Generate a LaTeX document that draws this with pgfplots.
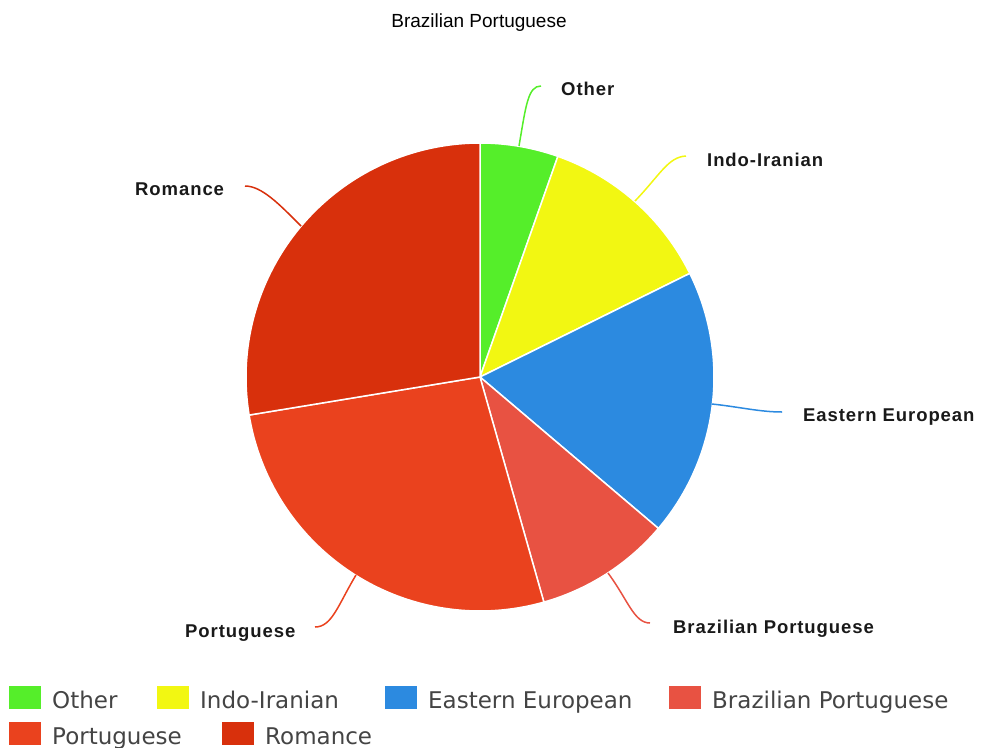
\documentclass[border=0pt]{standalone}
\usepackage{pgfplots}
\usepackage{pgfplotstable}
\pgfplotsset{compat=1.18}
\usepackage{fontspec}
\setmainfont{Liberation Sans}
\newfontfamily\lblfont[LetterSpace=5]{Liberation Sans}
\newfontfamily\legfont{DejaVu Sans}

\definecolor{cOther}{RGB}{85,238,42}
\definecolor{cIndo}{RGB}{242,247,18}
\definecolor{cEast}{RGB}{44,138,224}
\definecolor{cBraz}{RGB}{232,82,66}
\definecolor{cPort}{RGB}{234,66,30}
\definecolor{cRom}{RGB}{216,48,12}
\definecolor{legtext}{RGB}{68,68,68}

\pgfplotstableread{
name value
Other 5.4
IndoIranian 12.3
EasternEuropean 18.5
BrazilianPortuguese 9.4
Portuguese 26.8
Romance 27.6
}\piedata

\newcommand\slice[2]{%
  \fill[#2, draw=white, line width=1.5bp, line join=round]
    (axis cs:480,377) -- ++({90-3.6*\csname sa#1\endcsname}:234bp)
    arc[start angle={90-3.6*\csname sa#1\endcsname},
        end angle={90-3.6*\csname ea#1\endcsname}, radius=234bp] -- cycle;}

\newcommand\lbl[3]{\node[anchor=base west, inner sep=0pt, text=black!90]
  at (axis cs:#1,#2) {\lblfont\bfseries\fontsize{18.5bp}{22bp}\selectfont #3};}

\newcommand\legentry[4]{%
  \fill[#3] (axis cs:#1,#2) rectangle ++(32bp,23bp);
  \node[anchor=base west, inner sep=0pt, text=legtext]
    at (axis cs:#1+43,#2-1) {\legfont\fontsize{23bp}{26bp}\selectfont #4};}

\begin{document}
\begin{tikzpicture}
\xdef\cum{0}
\foreach \i in {0,...,5}{%
  \pgfplotstablegetelem{\i}{value}\of\piedata
  \pgfmathsetmacro\s{\cum}%
  \pgfmathsetmacro\e{\cum+\pgfplotsretval}%
  \expandafter\xdef\csname sa\i\endcsname{\s}%
  \expandafter\xdef\csname ea\i\endcsname{\e}%
  \xdef\cum{\e}%
}
\begin{axis}[
  scale only axis, width=983bp, height=748bp,
  xmin=0, xmax=983, ymin=0, ymax=748, y dir=reverse,
  hide axis, clip=false]
  % pie slices
  \slice{0}{cOther}
  \slice{1}{cIndo}
  \slice{2}{cEast}
  \slice{3}{cBraz}
  \slice{4}{cPort}
  \slice{5}{cRom}
  % title
  \node[anchor=base, inner sep=0pt] at (axis cs:479,28)
    {\fontsize{19bp}{22bp}\selectfont Brazilian Portuguese};
  % connectors
  \draw[cOther, line width=1.5bp] (axis cs:519,146) .. controls (axis cs:526,105) and (axis cs:528,86) .. (axis cs:541,86);
  \draw[cIndo, line width=1.5bp] (axis cs:635,201) .. controls (axis cs:660,175) and (axis cs:668,157) .. (axis cs:686,156);
  \draw[cEast, line width=1.5bp] (axis cs:712,404) .. controls (axis cs:740,407) and (axis cs:760,412) .. (axis cs:782,412);
  \draw[cBraz, line width=1.5bp] (axis cs:608,573) .. controls (axis cs:628,600) and (axis cs:634,623) .. (axis cs:650,623);
  \draw[cPort, line width=1.5bp] (axis cs:356,575) .. controls (axis cs:338,605) and (axis cs:332,627) .. (axis cs:315,627);
  \draw[cRom, line width=1.5bp] (axis cs:301,226) .. controls (axis cs:280,205) and (axis cs:262,186) .. (axis cs:245,186);
  % labels
  \lbl{561}{96}{Other}
  \lbl{707}{167}{Indo-Iranian}
  \lbl{135}{196}{Romance}
  \lbl{803}{421}{Eastern European}
  \lbl{673}{633}{Brazilian Portuguese}
  \lbl{185}{637}{Portuguese}
  % legend
  \legentry{9}{709}{cOther}{Other}
  \legentry{157}{709}{cIndo}{Indo-Iranian}
  \legentry{385}{709}{cEast}{Eastern European}
  \legentry{669}{709}{cBraz}{Brazilian Portuguese}
  \legentry{9}{745}{cPort}{Portuguese}
  \legentry{222}{745}{cRom}{Romance}
\end{axis}
\pgfresetboundingbox
\useasboundingbox (0,0) rectangle (983bp,748bp);
\end{tikzpicture}
\end{document}
